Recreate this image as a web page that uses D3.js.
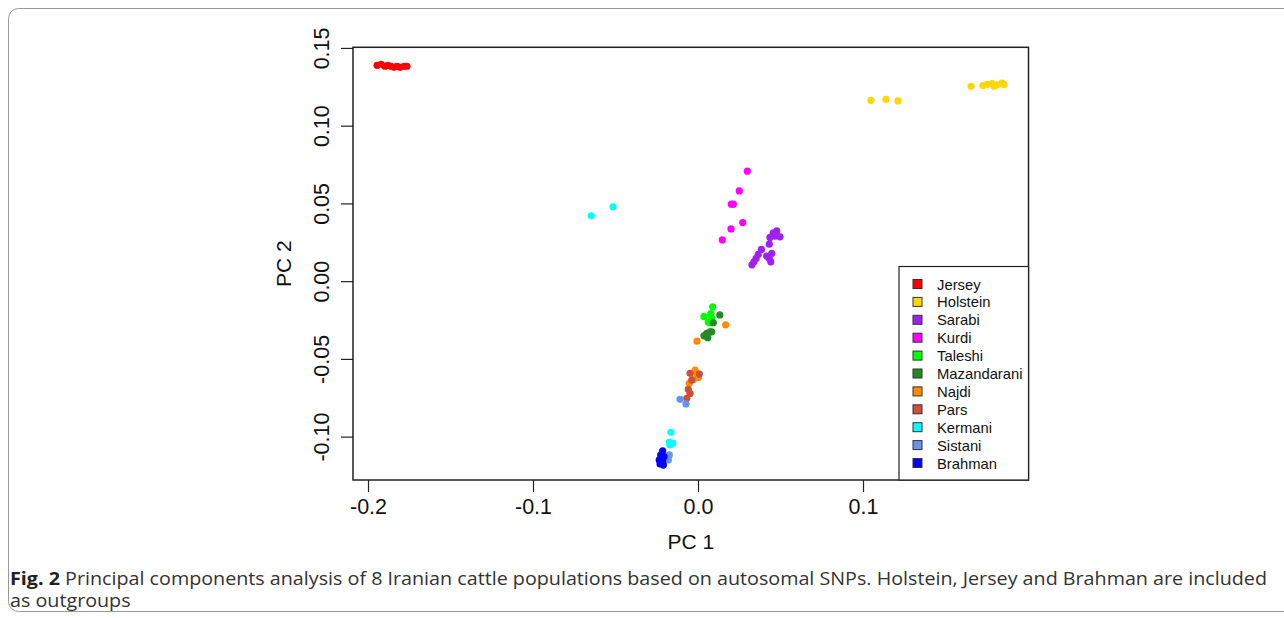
<!DOCTYPE html>
<html>
<head>
<meta charset="utf-8">
<script src="https://cdn.jsdelivr.net/npm/d3@7"></script>
<style>
  body { margin: 0; background: #fff; }
  svg { display: block; }
</style>
</head>
<body>
<div id="chart"></div>
<script>
// populations, legend order
const breeds = ["Jersey", "Holstein", "Sarabi", "Kurdi", "Taleshi", "Mazandarani",
                "Najdi", "Pars", "Kermani", "Sistani", "Brahman"];
const colors = ["#ff0000", "#ffd700", "#a020f0", "#ff00ff", "#00ff00", "#228b22",
                "#ff8c00", "#cd4f39", "#00ffff", "#6495ed", "#0000ff"];

// PC1 / PC2 per sample
const jerseyPC1 = [-0.1945, -0.1921, -0.1897, -0.1879, -0.1861, -0.1842, -0.1824, -0.1806, -0.1782, -0.1764];
const jerseyPC2 = [0.1388, 0.1395, 0.1382, 0.1388, 0.1382, 0.1375, 0.1382, 0.1375, 0.1382, 0.1382];
const holsteinPC1 = [0.1048, 0.1139, 0.1212, 0.1655, 0.1727, 0.1752, 0.1782, 0.1794, 0.1812, 0.1842, 0.1855];
const holsteinPC2 = [0.1163, 0.1170, 0.1159, 0.1253, 0.1258, 0.1266, 0.1271, 0.1253, 0.1262, 0.1274, 0.1264];
const sarabiPC1 = [0.0477, 0.0456, 0.0497, 0.0467, 0.0436, 0.0432, 0.0384, 0.0365, 0.0352, 0.0339, 0.0327, 0.0416, 0.0447, 0.0432, 0.0441];
const sarabiPC2 = [0.0323, 0.0310, 0.0285, 0.0289, 0.0281, 0.0238, 0.0204, 0.0172, 0.0146, 0.0124, 0.0105, 0.0161, 0.0178, 0.0146, 0.0124];
const kurdiPC1 = [0.0299, 0.0250, 0.0202, 0.0214, 0.0271, 0.0200, 0.0147];
const kurdiPC2 = [0.0707, 0.0580, 0.0495, 0.0495, 0.0377, 0.0336, 0.0265];
const taleshiPC1 = [0.0089, 0.0036, 0.0077, 0.0083, 0.0062, 0.0079];
const taleshiPC2 = [-0.0165, -0.0227, -0.0208, -0.0240, -0.0265, -0.0268];
const mazandaraniPC1 = [0.0132, 0.0093, 0.0073, 0.0053, 0.0036, 0.0059, 0.0083];
const mazandaraniPC2 = [-0.0217, -0.0268, -0.0326, -0.0336, -0.0352, -0.0364, -0.0326];
const najdiPC1 = [0.0168, -0.0006, -0.0018, -0.0008, 0.0002, -0.0053, -0.0028];
const najdiPC2 = [-0.0281, -0.0386, -0.0572, -0.0593, -0.0619, -0.0657, -0.0632];
const parsPC1 = [-0.0048, 0.0008, -0.0038, -0.0059, -0.0048, -0.0068];
const parsPC2 = [-0.0593, -0.0598, -0.0636, -0.0696, -0.0722, -0.0754];
const kermaniPC1 = [-0.0647, -0.0515, -0.0164, -0.0174, -0.0153, -0.0170];
const kermaniPC2 = [0.0420, 0.0478, -0.0972, -0.1037, -0.1043, -0.1054];
const sistaniPC1 = [-0.0109, -0.0073, -0.0174, -0.0180];
const sistaniPC2 = [-0.0760, -0.0790, -0.1118, -0.1150];
const brahmanPC1 = [-0.0214, -0.0226, -0.0206, -0.0235, -0.0214, -0.0230, -0.0210, -0.0220];
const brahmanPC2 = [-0.1091, -0.1118, -0.1129, -0.1150, -0.1161, -0.1176, -0.1183, -0.1139];

const xTicks = [-0.2, -0.1, 0.0, 0.1];
const yTicks = [-0.10, -0.05, 0.00, 0.05, 0.10, 0.15];

const pc1 = [jerseyPC1, holsteinPC1, sarabiPC1, kurdiPC1, taleshiPC1, mazandaraniPC1,
             najdiPC1, parsPC1, kermaniPC1, sistaniPC1, brahmanPC1];
const pc2 = [jerseyPC2, holsteinPC2, sarabiPC2, kurdiPC2, taleshiPC2, mazandaraniPC2,
             najdiPC2, parsPC2, kermaniPC2, sistaniPC2, brahmanPC2];

const points = [];
breeds.forEach((b, i) => {
    pc1[i].forEach((x, j) => points.push({ breed: b, color: colors[i], x: x, y: pc2[i][j] }));
});

const W = 1284, H = 618;
const plot = { left: 353, right: 1028.5, top: 47.3, bottom: 480 };

const svg = d3.select("#chart")
    .append("svg")
    .attr("width", W)
    .attr("height", H);

// figure frame
svg.append("rect")
    .attr("x", 8.5).attr("y", 8.5)
    .attr("width", 1300).attr("height", 603)
    .attr("rx", 10)
    .attr("fill", "none")
    .attr("stroke", "#999")
    .attr("stroke-width", 1);

// scales
const xScale = d3.scaleLinear()
    .domain([-0.2091, 0.2003])
    .range([plot.left, plot.right]);

const yScale = d3.scaleLinear()
    .domain([-0.1279, 0.1504])
    .range([plot.bottom, plot.top]);

const axisFont = "'Liberation Sans', Arial, sans-serif";

// axes (R style)
const xAxis = d3.axisBottom(xScale)
    .tickValues(xTicks)
    .tickSize(12)
    .tickPadding(7)
    .tickFormat(d3.format(".1f"));

const gx = svg.append("g")
    .attr("transform", `translate(0,${plot.bottom})`)
    .call(xAxis);
gx.select(".domain").remove();
gx.selectAll("line").attr("stroke", "#222").attr("stroke-width", 1.2);
gx.selectAll("text")
    .attr("font-family", axisFont)
    .attr("font-size", 21.5)
    .attr("fill", "#111")
    .text(d => d3.format(".1f")(d).replace("−", "-"));

const yAxis = d3.axisLeft(yScale)
    .tickValues(yTicks)
    .tickSize(12)
    .tickFormat(d3.format(".2f"));

const gy = svg.append("g")
    .attr("transform", `translate(${plot.left},0)`)
    .call(yAxis);
gy.select(".domain").remove();
gy.selectAll("line").attr("stroke", "#222").attr("stroke-width", 1.2);
gy.selectAll("text")
    .attr("font-family", axisFont)
    .attr("font-size", 21.5)
    .attr("fill", "#111")
    .attr("text-anchor", "middle")
    .attr("dy", null)
    .attr("x", null)
    .attr("transform", "translate(-31,0) rotate(-90)")
    .attr("dominant-baseline", "central")
    .text(d => d3.format(".2f")(d).replace("−", "-"));

// axis labels
svg.append("text")
    .attr("x", (plot.left + plot.right) / 2)
    .attr("y", 549)
    .attr("text-anchor", "middle")
    .attr("font-family", axisFont)
    .attr("font-size", 21)
    .attr("fill", "#111")
    .text("PC 1");

svg.append("text")
    .attr("transform", `translate(291,${(plot.top + plot.bottom) / 2}) rotate(-90)`)
    .attr("text-anchor", "middle")
    .attr("font-family", axisFont)
    .attr("font-size", 21)
    .attr("fill", "#111")
    .text("PC 2");

// points
svg.append("g")
    .selectAll("circle")
    .data(points)
    .enter()
    .append("circle")
    .attr("cx", d => xScale(d.x))
    .attr("cy", d => yScale(d.y))
    .attr("r", 3.6)
    .attr("fill", d => d.color);

// plot box
svg.append("rect")
    .attr("x", plot.left).attr("y", plot.top)
    .attr("width", plot.right - plot.left)
    .attr("height", plot.bottom - plot.top)
    .attr("fill", "none")
    .attr("stroke", "#222")
    .attr("stroke-width", 1.5);

// legend
const legend = svg.append("g");
legend.append("rect")
    .attr("x", 899).attr("y", 266.5)
    .attr("width", plot.right - 899)
    .attr("height", plot.bottom - 266.5)
    .attr("fill", "#fff")
    .attr("stroke", "#222")
    .attr("stroke-width", 1.2);

const items = legend.selectAll("g.item")
    .data(breeds)
    .enter()
    .append("g")
    .attr("class", "item")
    .attr("transform", (d, i) => `translate(0,${284 + i * 17.9})`);

items.append("rect")
    .attr("x", 913).attr("y", -4.5)
    .attr("width", 9).attr("height", 9)
    .attr("fill", (d, i) => colors[i])
    .attr("stroke", "#333")
    .attr("stroke-width", 1);

items.append("text")
    .attr("x", 937)
    .attr("y", 0.5)
    .attr("dominant-baseline", "central")
    .attr("font-family", axisFont)
    .attr("font-size", 14.8)
    .attr("fill", "#111")
    .text(d => d);

// caption
const capFont = "'Open Sans', sans-serif";
const line1 = svg.append("text")
    .attr("x", 10)
    .attr("y", 585)
    .attr("font-family", capFont)
    .attr("font-size", 18)
    .attr("fill", "#333");
line1.append("tspan")
    .attr("font-weight", "bold")
    .attr("fill", "#222")
    .text("Fig. 2");
line1.append("tspan")
    .text(" Principal components analysis of 8 Iranian cattle populations based on autosomal SNPs. Holstein, Jersey and Brahman are included");

const natural = line1.node().getComputedTextLength();
const squeeze = 1257 / natural;
line1.attr("textLength", 1257).attr("lengthAdjust", "spacingAndGlyphs");

const line2 = svg.append("text")
    .attr("x", 10)
    .attr("y", 607)
    .attr("font-family", capFont)
    .attr("font-size", 18)
    .attr("fill", "#333")
    .text("as outgroups");
const n2 = line2.node().getComputedTextLength();
line2.attr("textLength", n2 * squeeze).attr("lengthAdjust", "spacingAndGlyphs");
</script>
</body>
</html>
